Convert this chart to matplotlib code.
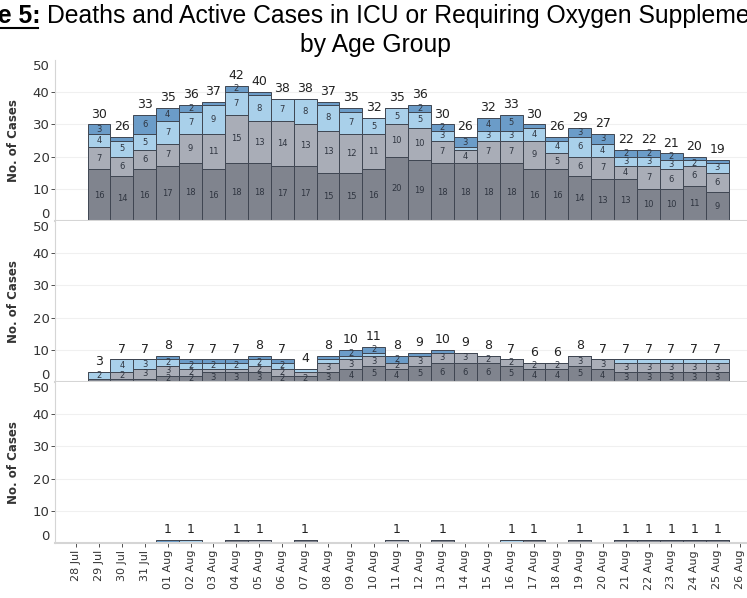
import matplotlib.pyplot as plt
import numpy as np

# x axis dates, bars start at 29 Jul and end at 25 Aug
dates = ['28 Jul', '29 Jul', '30 Jul', '31 Jul'] + ['%02d Aug' % d for d in range(1, 27)]

# panel 1 - four age groups, bottom to top
p1_g1 = [16, 14, 16, 17, 18, 16, 18, 18, 17, 17, 15, 15, 16, 20, 19, 18, 18, 18, 18, 16, 16, 14, 13, 13, 10, 10, 11, 9]
p1_g2 = [7, 6, 6, 7, 9, 11, 15, 13, 14, 13, 13, 12, 11, 10, 10, 7, 4, 7, 7, 9, 5, 6, 7, 4, 7, 6, 6, 6]
p1_g3 = [4, 5, 5, 7, 7, 9, 7, 8, 7, 8, 8, 7, 5, 5, 5, 3, 1, 3, 3, 4, 4, 6, 4, 3, 3, 3, 2, 3]
p1_g4 = [3, 1, 6, 4, 2, 1, 2, 1, 0, 0, 1, 1, 0, 0, 2, 2, 3, 4, 5, 1, 1, 3, 3, 2, 2, 2, 1, 1]

# panel 2
p2_g1 = [1, 1, 1, 2, 2, 3, 3, 3, 2, 2, 3, 4, 5, 4, 5, 6, 6, 6, 5, 4, 4, 5, 4, 3, 3, 3, 3, 3]
p2_g2 = [0, 2, 3, 3, 2, 1, 1, 2, 2, 1, 3, 3, 3, 2, 3, 3, 3, 2, 2, 2, 2, 3, 3, 3, 3, 3, 3, 3]
p2_g3 = [2, 4, 3, 2, 2, 2, 2, 2, 2, 1, 1, 1, 1, 0, 0, 0, 0, 0, 0, 0, 0, 0, 0, 1, 1, 1, 1, 1]
p2_g4 = [0, 0, 0, 1, 1, 1, 1, 1, 1, 0, 1, 2, 2, 2, 1, 1, 0, 0, 0, 0, 0, 0, 0, 0, 0, 0, 0, 0]

# panel 3
p3_g1 = [0, 0, 0, 0, 0, 0, 1, 0, 0, 1, 0, 0, 0, 0, 0, 1, 0, 0, 0, 1, 0, 1, 0, 1, 1, 1, 1, 1]
p3_g2 = [0, 0, 0, 0, 0, 0, 0, 1, 0, 0, 0, 0, 0, 1, 0, 0, 0, 0, 0, 0, 0, 0, 0, 0, 0, 0, 0, 0]
p3_g3 = [0, 0, 0, 0, 1, 0, 0, 0, 0, 0, 0, 0, 0, 0, 0, 0, 0, 0, 1, 0, 0, 0, 0, 0, 0, 0, 0, 0]
p3_g4 = [0, 0, 0, 1, 0, 0, 0, 0, 0, 0, 0, 0, 0, 0, 0, 0, 0, 0, 0, 0, 0, 0, 0, 0, 0, 0, 0, 0]

colors = ['#80848e', '#a9adb7', '#a9d0ea', '#6b9cc8']

W, H = 747, 598
fig = plt.figure(figsize=(W / 100, H / 100), dpi=100)

# title, cut off at both sides like the screenshot
fig.text(40 / W, 1 - 16 / H, 'Figure 5:', ha='right', va='center', fontsize=17.8,
         fontweight='bold', family='Liberation Sans')
fig.text(47 / W, 1 - 16 / H, 'Deaths and Active Cases in ICU or Requiring Oxygen Supplementation',
         ha='left', va='center', fontsize=17.8, family='Liberation Sans')
fig.add_artist(plt.Line2D([0, 38 / W], [1 - 28 / H, 1 - 28 / H], color='black', lw=1.5))
fig.text(375 / W, 1 - 45 / H, 'by Age Group', ha='center', va='center', fontsize=17.8,
         family='Liberation Sans')

panels = [
    [p1_g1, p1_g2, p1_g3, p1_g4],
    [p2_g1, p2_g2, p2_g3, p2_g4],
    [p3_g1, p3_g2, p3_g3, p3_g4],
]
tops = [60, 221, 382]

x = np.arange(1, 29)
for k, groups in enumerate(panels):
    ax = fig.add_axes([55 / W, 1 - (tops[k] + 161) / H, 692 / W, 161 / H])
    bottom = np.zeros(len(x))
    for vals, c in zip(groups, colors):
        vals = np.array(vals)
        ax.bar(x, vals, width=1.0, bottom=bottom, color=c,
               edgecolor='#3f4652', linewidth=0.7)
        for xi, b, v in zip(x, bottom, vals):
            if v >= 2:
                ax.text(xi, b + v / 2, str(v), ha='center', va='center',
                        fontsize=6, color='#2f3540')
        bottom = bottom + vals
    for xi, t in zip(x, bottom):
        if t > 0:
            ax.text(xi, t + 1.2, str(int(t)), ha='center', va='bottom',
                    fontsize=9, color='#222222')

    ax.set_xlim(-0.92, 29.3)
    ax.set_ylim(0, 50)
    ax.set_yticks([0, 10, 20, 30, 40, 50])
    ax.set_yticklabels(['0', '10', '20', '30', '40', '50'])
    labels = ax.get_yticklabels()
    labels[0].set_verticalalignment('bottom')
    labels[-1].set_verticalalignment('top')
    ticks = ax.yaxis.get_major_ticks()
    ticks[0].tick1line.set_visible(False)
    ticks[-1].tick1line.set_visible(False)
    ax.tick_params(axis='y', labelsize=9.5, colors='#333333', length=3, width=0.6,
                   pad=1)
    for yl in [10, 20, 30, 40]:
        ax.axhline(yl, color='#f0f0f0', lw=0.8, zorder=0)
    ax.set_ylabel('No. of Cases', fontsize=8.5, fontweight='bold', color='#333333',
                  labelpad=9)
    for s in ['top', 'right']:
        ax.spines[s].set_visible(False)
    ax.spines['left'].set_color('#d5d5d5')
    ax.spines['bottom'].set_color('#d5d5d5')
    ax.spines['bottom'].set_linewidth(1.5)

    ax.set_xticks(np.arange(len(dates)))
    if k == 2:
        ax.set_xticklabels(dates, rotation=90, fontsize=8, color='#333333')
        ax.tick_params(axis='x', length=3, width=0.6, colors='#333333', pad=2)
    else:
        ax.set_xticklabels([])
        ax.tick_params(axis='x', length=0)

fig.savefig('out.png', dpi=100)
